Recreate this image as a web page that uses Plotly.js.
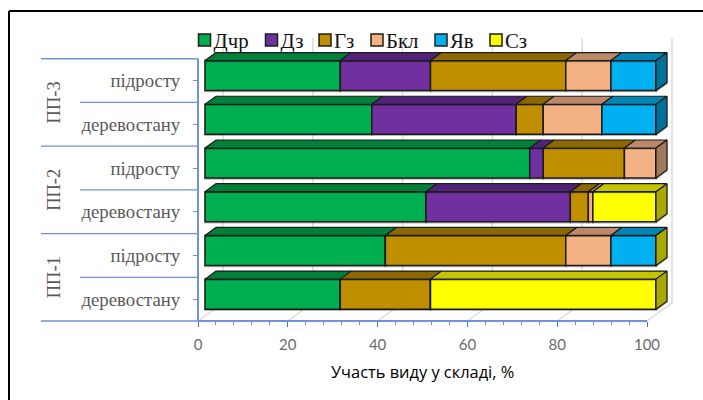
<!DOCTYPE html>
<html><head><meta charset="utf-8">
<script src="https://cdn.plot.ly/plotly-3.0.1.min.js"></script>
<style>html,body{margin:0;padding:0;background:#fff}#c{width:703px;height:400px}
.barlayer .trace,.scatterlayer .trace{filter:drop-shadow(0.5px 1px 0.7px rgba(0,0,0,.28))}</style>
</head><body><div id="c"></div>
<script>
// Data, rows listed from the bottom of the chart to the top
const rowLabels = ['деревостану','підросту','деревостану','підросту','деревостану','підросту'];
const groupLabels = ['ПП-1','ПП-2','ПП-3'];
const speciesNames = ['Дчр','Дз','Гз','Бкл','Яв','Сз'];
const dchr = [30,40,49,72,37,30];
const dz   = [null,null,32,3,32,20];
const gz   = [20,40,4,18,6,30];
const bkl  = [null,10,1,7,13,10];
const yav  = [null,10,null,null,12,10];
const sz   = [50,0,14,null,null,null];
const seriesValues = [dchr,dz,gz,bkl,yav,sz];
const xTicks = [0,20,40,60,80,100];
const xMinorTicks = [4,8,12,16,24,28,32,36,44,48,52,56,64,68,72,76,84,88,92,96];

// Styles
const frontColors = ['#00b050','#7030a0','#bf8f00','#f4b183','#00b0f0','#ffff00'];
const topColors   = ['#008038','#512378','#8c6900','#bc8869','#0085b5','#c4c400'];
const sideColors  = ['#006a30','#451e66','#7a5c00','#a07a5c','#007098','#a8a800'];
const edge = '#1c1c1c', blue = '#6f92d8', gray = '#595959';

// Page geometry: axis scale and the (larger) plot box that also holds the 3D depth
const X0=198, X100=647, Y0=320.7, Y6=58.7, W=703, H=400, R=685, T=25;
const uX = (X100-X0)/100, uY = (Y0-Y6)/6;
const px = p => (p-X0)/(R-X0);
const py = p => (Y0-p)/(Y0-T);

// 3D projection of the bars
const barStart = 7/uX, barScale = 451/449, barShift = 5/uY, barHeight = 30/uY;
const depthX = 11/uX, depthY = 8/uY;
const wallX = 25, wallY = 18, wallTopPx = 38;

const traces = [];
const cum = rowLabels.map(()=>0);
const topPolys = speciesNames.map(()=>({x:[],y:[]}));
const sidePolys = speciesNames.map(()=>({x:[],y:[]}));
seriesValues.forEach((vals,s)=>{
  const base=[],len=[],ys=[];
  vals.forEach((v,r)=>{
    ys.push(r+0.5+barShift);
    base.push(barStart+barScale*cum[r]);
    len.push(v==null?0:barScale*v);
    if(v){
      const x0=barStart+barScale*cum[r], x1=x0+barScale*v, yt=r+0.5+barShift+barHeight/2;
      const t=topPolys[s];
      t.x.push(x0,x1,x1+depthX,x0+depthX,x0,null);
      t.y.push(yt,yt,yt+depthY,yt+depthY,yt,null);
    }
    if(v!=null) cum[r]+=v;
  });
  traces.push({type:'bar',orientation:'h',name:speciesNames[s],x:len,base:base,y:ys,width:barHeight,
    marker:{color:frontColors[s],line:{color:edge,width:1.5}},hoverinfo:'skip'});
});
rowLabels.forEach((_,r)=>{
  let last=-1; seriesValues.forEach((vals,s)=>{ if(vals[r]!=null) last=s; });
  const x1=barStart+barScale*cum[r], yc=r+0.5+barShift, yt=yc+barHeight/2, yb=yc-barHeight/2;
  const p=sidePolys[last];
  p.x.push(x1,x1+depthX,x1+depthX,x1,x1,null);
  p.y.push(yb,yb+depthY,yt+depthY,yt,yb,null);
});
const face=(p,c)=>({type:'scatter',mode:'lines',x:p.x,y:p.y,fill:'toself',fillcolor:c,
  line:{color:edge,width:1.2},showlegend:false,hoverinfo:'skip'});
speciesNames.forEach((_,s)=>{
  if(topPolys[s].x.length) traces.push(face(topPolys[s],topColors[s]));
  if(sidePolys[s].x.length) traces.push(face(sidePolys[s],sideColors[s]));
});

const shapes=[];
const seg=(a,b,c,d,color,w,layer)=>shapes.push({type:'line',xref:'paper',yref:'paper',layer:layer||'above',
  x0:px(a),y0:py(b),x1:px(c),y1:py(d),line:{color:color,width:w}});
// frame
seg(9,11,9,400,'#000',2);
seg(9,11,703,11,'#000',2);
// back wall grid
xTicks.forEach(v=>{
  const a=X0+v*uX;
  shapes.push({type:'path',xref:'paper',yref:'paper',layer:'below',
    path:`M${px(a)},${py(Y0)}L${px(a+wallX)},${py(Y0-wallY)}L${px(a+wallX)},${py(wallTopPx)}`,
    line:{color:'#dcdcdc',width:1.5}});
});
// axis lines
seg(X0,Y0,X100,Y0,blue,2);
seg(X0,Y6,X0,Y0,blue,2);
// category separators
for(let i=0;i<=6;i++){
  const yy=Y0-i*uY;
  seg(i%2===0?41:80,yy,X0,yy,blue,1.3);
}

const annotations = groupLabels.map((g,i)=>({text:g,xref:'paper',yref:'y',x:px(54),y:i*2+1,xanchor:'center',yanchor:'middle',
  textangle:-90,showarrow:false,font:{family:'Liberation Serif',size:18.5,color:gray}}));
annotations.push({text:'Участь виду у складі, %',xref:'paper',yref:'paper',x:px(422.5),y:py(371),xanchor:'center',yanchor:'middle',
  showarrow:false,font:{family:'Open Sans',size:16.4,color:'#000'}});

const layout={
  width:W,height:H,margin:{l:X0,r:W-R,t:T,b:H-Y0,pad:0},paper_bgcolor:'#fff',plot_bgcolor:'rgba(0,0,0,0)',
  barmode:'overlay',showlegend:true,
  legend:{orientation:'h',x:px(178),xanchor:'left',y:py(20),yanchor:'top',bgcolor:'rgba(0,0,0,0)',
    font:{family:'Liberation Serif',size:20.8,color:'#111'},traceorder:'normal',itemclick:false,itemdoubleclick:false},
  xaxis:{range:[0,(R-X0)/uX],tickvals:xTicks,showgrid:false,zeroline:false,showline:false,
    ticks:'outside',ticklen:5,tickcolor:'#4472c4',tickwidth:1.3,
    minor:{tickvals:xMinorTicks,ticks:'outside',ticklen:3,tickcolor:blue,tickwidth:1},
    tickfont:{family:'Lato',size:15,color:'#6b6b6b'},ticklabelstandoff:5},
  yaxis:{range:[0,(Y0-T)/uY],tickvals:[0.5,1.5,2.5,3.5,4.5,5.5],ticktext:rowLabels,showgrid:false,zeroline:false,
    showline:false,ticks:'outside',ticklen:4,tickcolor:blue,ticklabelstandoff:9,
    tickfont:{family:'Liberation Serif',size:18.8,color:gray}},
  shapes,annotations
};
const swatchCenters=[204.5,271.5,325,377,441,496];
Plotly.newPlot('c',traces,layout,{displayModeBar:false}).then(()=>{
  document.querySelectorAll('.legend .traces').forEach((g,i)=>{
    const m=/translate\(([^,]+),\s*([^)]+)\)/.exec(g.getAttribute('transform'));
    g.setAttribute('transform',`translate(${swatchCenters[i]-178-20},${m?m[2]:0})`);
    const t=g.querySelector('text.legendtext'); if(t) t.setAttribute('x',29);
  });
});
</script></body></html>
